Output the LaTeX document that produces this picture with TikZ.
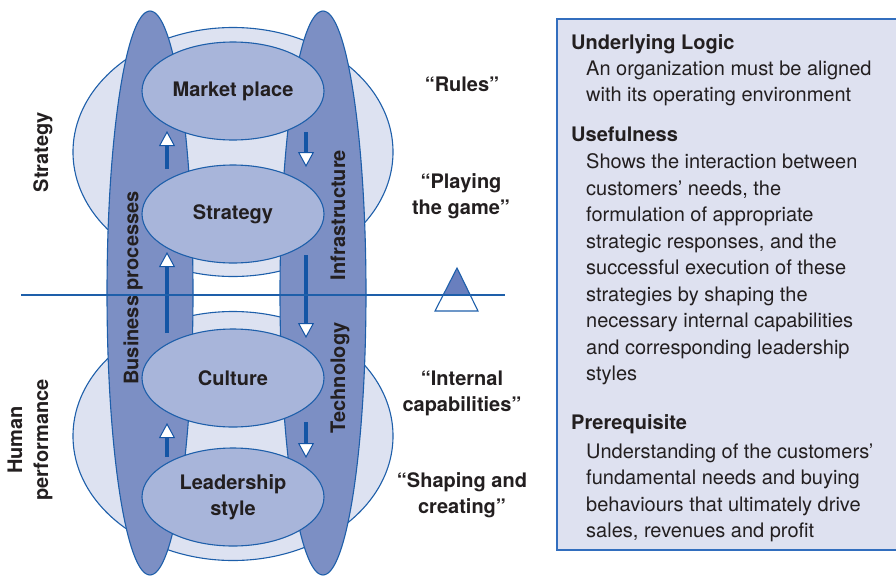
\documentclass[tikz,border=0pt]{standalone}
\usepackage{fontspec}
\setmainfont{TeX Gyre Heros}
\usetikzlibrary{shapes.geometric,arrows.meta}
\definecolor{lineblue}{RGB}{30,95,170}
\definecolor{pillarfill}{RGB}{124,143,196}
\definecolor{smallfill}{RGB}{168,181,218}
\definecolor{bigfill}{RGB}{221,226,241}
\definecolor{boxfill}{RGB}{222,225,240}
\definecolor{boxline}{RGB}{50,110,190}
\definecolor{shaftblue}{RGB}{20,85,165}
\definecolor{trifill}{RGB}{105,127,190}
\definecolor{txt}{RGB}{35,31,32}
\begin{document}
\begin{tikzpicture}[x=1pt,y=-1pt,
  every node/.style={text=txt, font=\fontsize{20}{26.5}\selectfont},
  bold/.style={font=\fontsize{20}{26}\selectfont\bfseries},
  big/.style={ellipse, draw=lineblue, line width=1.1pt, fill=bigfill,
    minimum width=320pt, minimum height=249pt, inner sep=0pt},
  pillar/.style={ellipse, draw=lineblue, line width=1.1pt, fill=pillarfill,
    minimum width=86pt, minimum height=564pt, inner sep=0pt},
  stage/.style={ellipse, draw=lineblue, line width=1.1pt, fill=smallfill,
    minimum width=182pt, minimum height=98pt, inner sep=0pt, bold, align=center},
  flow/.style={draw=shaftblue, line width=3.2pt,
    -{Triangle[length=15pt,width=16pt,fill=white,line width=1pt]}},
  quote/.style={bold, align=center},
  side/.style={bold, rotate=90, align=center},
  boxtext/.style={anchor=base west, inner sep=0pt}]
\useasboundingbox (0,0) rectangle (896,576);

% background ellipses
\node[big] (upper) at (233,152) {};
\node[big] (lower) at (233,436) {};

% pillars
\node[pillar] (bp) at (150,293) {};
\node[pillar] (infra) at (323,293) {};

% stages
\node[stage] (market) at (233,91) {Market place};
\node[stage] (strat) at (233,214) {Strategy};
\node[stage] (culture) at (233,378) {Culture};
\node[stage] (lead) at (233,497) {Leadership\\style};

% arrows
\coordinate (a1s) at (167,169); \coordinate (a1e) at (167,131);
\coordinate (a2s) at (167,333); \coordinate (a2e) at (167,252);
\coordinate (a3s) at (167,457); \coordinate (a3e) at (167,423);
\coordinate (b1s) at (306,132); \coordinate (b1e) at (306,167);
\coordinate (b2s) at (306,255); \coordinate (b2e) at (306,338);
\coordinate (b3s) at (306,422); \coordinate (b3e) at (306,458);
\draw[flow] (a1s) -- (a1e);
\draw[flow] (a2s) -- (a2e);
\draw[flow] (a3s) -- (a3e);
\draw[flow] (b1s) -- (b1e);
\draw[flow] (b2s) -- (b2e);
\draw[flow] (b3s) -- (b3e);

% pillar labels
\node[side] (bptext) at (133,288) {Business processes};
\node[side] (inftext) at (338,215) {Infrastructure};
\node[side] (techtext) at (340,378) {Technology};

% left labels
\node[side] (stlabel) at (43,152) {Strategy};
\node[side] (hplabel) at (30,440) {Human\\performance};

% divider and triangle
\fill[trifill] (457,268) -- (443.5,295) -- (470.5,295) -- cycle;
\draw[lineblue, line width=1.1pt, line join=miter] (457,268) -- (435,311) -- (478,311) -- cycle;
\coordinate (divL) at (21,295);
\coordinate (divR) at (505,295);
\draw[lineblue, line width=1.1pt] (divL) -- (divR);

% quoted labels
\node[quote] (q1) at (462,84) {“Rules”};
\node[quote] (q2) at (461,196) {“Playing\\the game”};
\node[quote] (q3) at (462,393) {“Internal\\capabilities”};
\node[quote] (q4) at (462,495.5) {“Shaping and\\creating”};

% right info box
\fill[boxfill] (557,19) rectangle (897,550);
\draw[boxline, line width=1.3pt] (897,19) -- (557,19) -- (557,550) -- (897,550);

\node[bold, boxtext] (h1) at (571,49.5) {Underlying Logic};
\node[bold, boxtext] (h2) at (571,141) {Usefulness};
\node[bold, boxtext] (h3) at (571,429) {Prerequisite};

\foreach \y/\t [count=\i] in {
  75/{An organization must be aligned},
  101.5/{with its operating environment},
  168.5/{Shows the interaction between},
  195/{customers’ needs, the},
  221.5/{formulation of appropriate},
  248/{strategic responses, and the},
  274.5/{successful execution of these},
  301/{strategies by shaping the},
  327.5/{necessary internal capabilities},
  354/{and corresponding leadership},
  380.5/{styles},
  458/{Understanding of the customers’},
  484.5/{fundamental needs and buying},
  511/{behaviours that ultimately drive},
  537.5/{sales, revenues and profit}}
  \node[boxtext] (body\i) at (586,\y) {\t};
\end{tikzpicture}
\end{document}
